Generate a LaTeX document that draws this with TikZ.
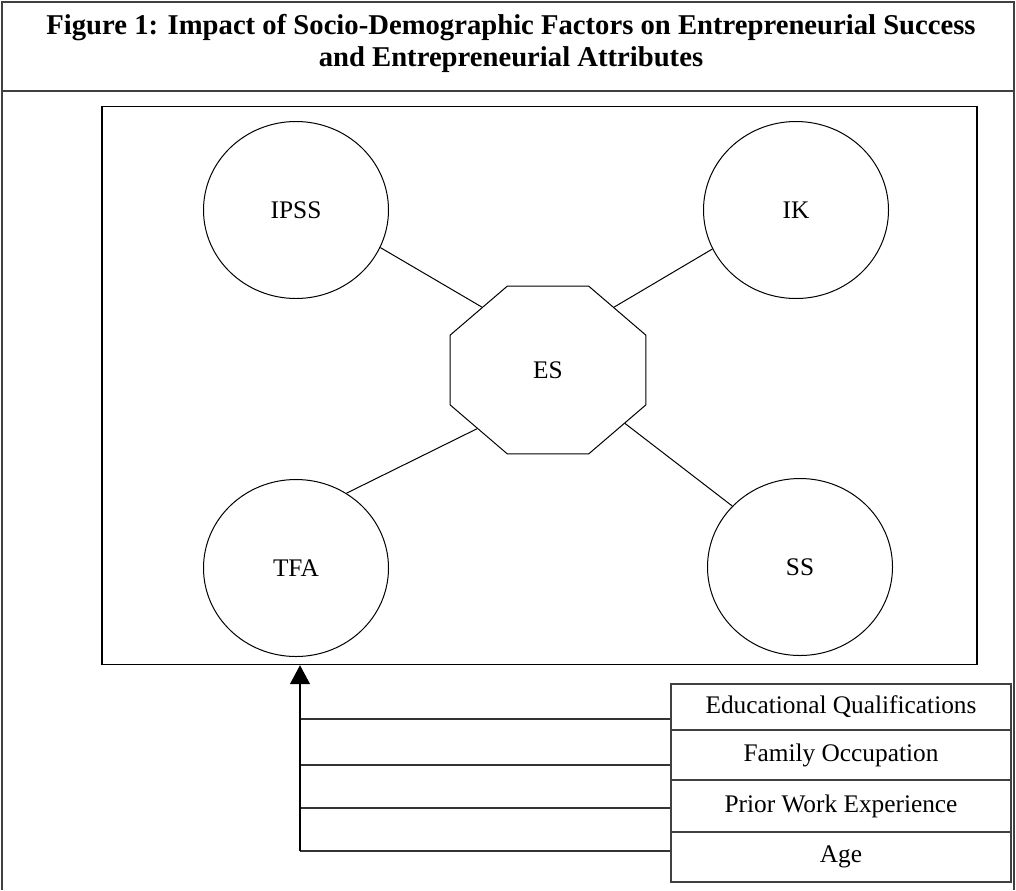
\documentclass[tikz,border=0pt]{standalone}
\usepackage{fontspec}
\setmainfont{Liberation Serif}
\usetikzlibrary{shapes.geometric,arrows.meta}
\newlength{\pxu}
\setlength{\pxu}{0.75pt}
\tikzset{
  framestyle/.style={draw=black!75, line width=1.6\pxu},
  bubble/.style={ellipse, draw, line width=1\pxu, minimum width=185\pxu, minimum height=177\pxu, inner sep=0pt, font=\fontsize{19}{22}\selectfont},
  link/.style={draw, line width=1\pxu},
  factor/.style={rectangle, draw=black!75, line width=1.3\pxu, minimum width=340\pxu, inner sep=0pt, font=\fontsize{19}{22}\selectfont},
  feed/.style={draw=black!80, line width=1.3\pxu}
}
\begin{document}
\begin{tikzpicture}[x=0.75pt,y=-0.75pt]
\useasboundingbox (0,0) rectangle (1016,890);
% outer frame
\draw[framestyle] (2,890) -- (2,2) -- (1014,2) -- (1014,890);
\draw[framestyle] (2,91) -- (1014,91);
\node[font=\fontsize{21.5}{24}\selectfont\bfseries, align=center] (title) at (511,43)
  {Figure 1: Impact of Socio-Demographic Factors on Entrepreneurial Success\\and Entrepreneurial Attributes};
% inner box
\node[rectangle, draw, line width=1.4\pxu, minimum width=875\pxu, minimum height=558\pxu, inner sep=0pt] (inner) at (539.5,385.5) {};
% circles
\node[bubble] (ipss) at (296,210) {IPSS};
\node[bubble] (ik) at (796,210) {IK};
\node[bubble] (tfa) at (296,568) {TFA};
\node[bubble] (ss) at (800,567) {SS};
% octagon
\begin{scope}[shift={(548,370)}, xscale=1.1667]
\node[regular polygon, regular polygon sides=8, draw, line width=1\pxu, minimum size=181.8\pxu, inner sep=0pt, transform shape, font=\fontsize{19}{22}\selectfont] (es) at (0,0) {\scalebox{0.857}[1]{ES}};
\end{scope}
\draw[link] (ipss.-24.7) -- (es.132.4);
\draw[link] (ik.205.5) -- (es.48.5);
\draw[link] (tfa.56) -- (es.224);
\draw[link] (ss.138.4) -- (es.-39.8);
% factor boxes
\node[factor, minimum height=46\pxu] (eq) at (841,707) {Educational Qualifications};
\node[factor, minimum height=50\pxu] (fo) at (841,755) {Family Occupation};
\node[factor, minimum height=52\pxu] (pw) at (841,806) {Prior Work Experience};
\node[factor, minimum height=50\pxu] (age) at (841,857) {Age};
% feed lines
\coordinate (tb) at (300,851);
\path (eq.west) ++(0,12) coordinate (q1);
\path (fo.west) ++(0,10) coordinate (q2);
\path (pw.west) ++(0,2) coordinate (q3);
\path (age.west) ++(0,-6) coordinate (q4);
\draw[feed] (q1) -- (q1 -| tb);
\draw[feed] (q2) -- (q2 -| tb);
\draw[feed] (q3) -- (q3 -| tb);
\draw[feed] (q4) -- (tb);
\draw[line width=1.3\pxu, -{Triangle[length=14.25pt, width=15pt]}] (tb) -- (tb |- inner.south);
\end{tikzpicture}
\end{document}
